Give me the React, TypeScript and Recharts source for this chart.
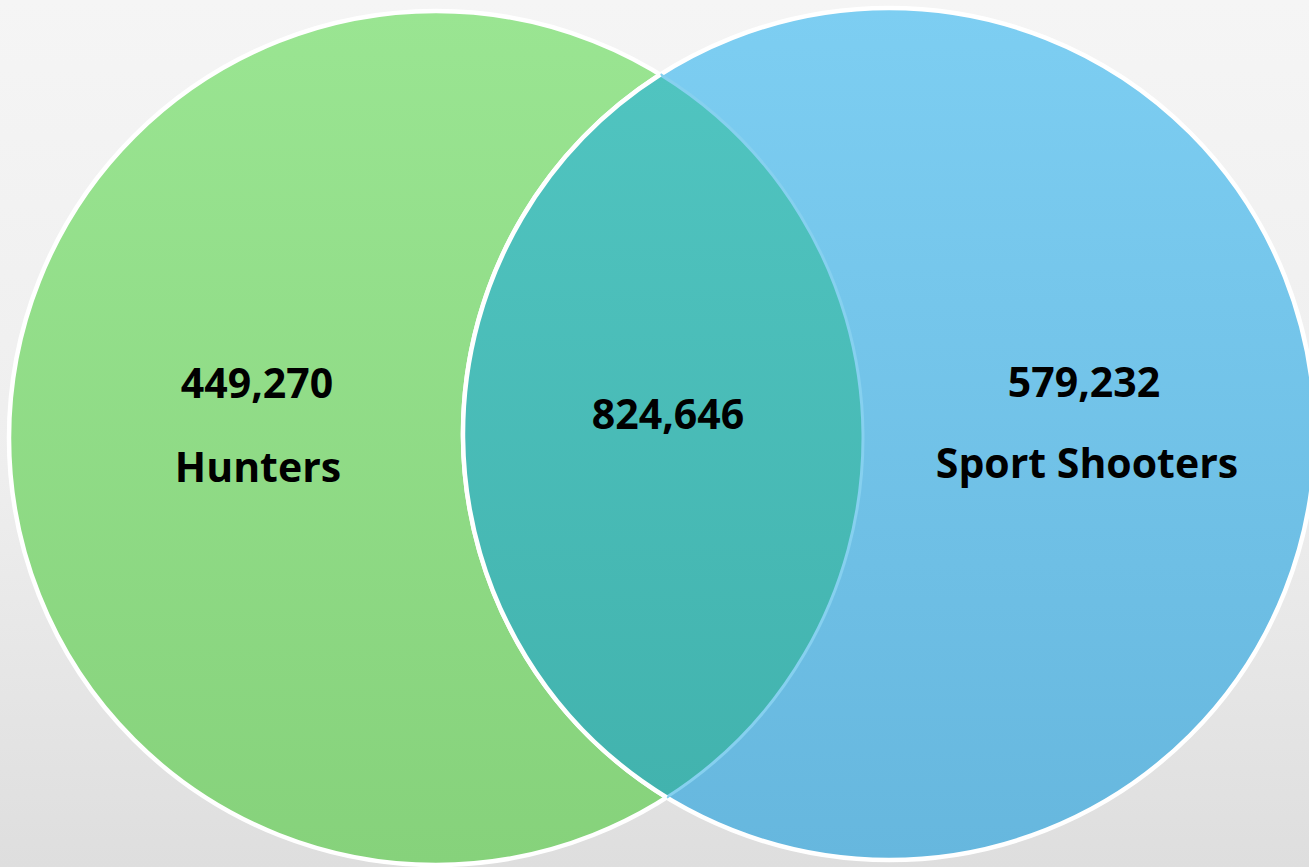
import { ScatterChart, Scatter, XAxis, YAxis } from 'recharts'

const W = 1309
const H = 867

// data
const SET_NAMES = ['Hunters', 'Sport Shooters']
const ONLY_COUNTS = [449270, 579232]
const BOTH_COUNT = 824646

// layout (page pixels, axes are identity)
const CENTER_X = [436, 889]
const CENTER_Y = [438, 434]
const RADIUS = [427, 426]
const VALUE_X = [257, 1084]
const NAME_X = [258, 1087]
const VALUE_Y = [398, 397]
const NAME_Y = [482, 478]
const BOTH_LABEL = { x: 668, y: 429 }

const FILLS = ['url(#gGreen)', 'url(#gBlue)']
const FONT = { fontFamily: 'Open Sans, sans-serif', fontWeight: 700, fontSize: 41, fill: '#000' }

const fmt = (n: number) => n.toLocaleString('en-US')

const setRows = SET_NAMES.map((name, i) => ({ x: CENTER_X[i], y: CENTER_Y[i], idx: i, name, value: ONLY_COUNTS[i] }))

function intersections() {
    const [x1, x2] = CENTER_X
    const [y1, y2] = CENTER_Y
    const [r1, r2] = RADIUS
    const d = Math.hypot(x2 - x1, y2 - y1)
    const a = (r1 * r1 - r2 * r2 + d * d) / (2 * d)
    const h = Math.sqrt(r1 * r1 - a * a)
    const mx = x1 + (a * (x2 - x1)) / d
    const my = y1 + (a * (y2 - y1)) / d
    const p = { x: mx + (h * (y2 - y1)) / d, y: my - (h * (x2 - x1)) / d }
    const q = { x: mx - (h * (y2 - y1)) / d, y: my + (h * (x2 - x1)) / d }
    return p.y < q.y ? [p, q] : [q, p]
}

const [TOP, BOT] = intersections()
const bothRows = [{ x: (TOP.x + BOT.x) / 2, y: (TOP.y + BOT.y) / 2, value: BOTH_COUNT }]

function SetShape(props: any) {
    const p = props.payload ?? props
    const i = p.idx
    return (
        <g>
            {i === 0 && (
                <defs>
                    <linearGradient id="gGreen" x1="0" y1="0" x2="0" y2="1">
                        <stop offset="0%" stopColor="#9ae592" />
                        <stop offset="100%" stopColor="#86d27b" />
                    </linearGradient>
                    <linearGradient id="gBlue" x1="0" y1="0" x2="0" y2="1">
                        <stop offset="0%" stopColor="#7dcef2" />
                        <stop offset="100%" stopColor="#66b7de" />
                    </linearGradient>
                    <linearGradient id="gTeal" x1="0" y1="0" x2="0" y2="1">
                        <stop offset="0%" stopColor="#50c4c0" />
                        <stop offset="100%" stopColor="#42b3ae" />
                    </linearGradient>
                </defs>
            )}
            <circle cx={props.cx} cy={props.cy} r={RADIUS[i]} fill={FILLS[i]} stroke="#ffffff" strokeWidth={4.5} />
            <text x={VALUE_X[i]} y={VALUE_Y[i]} textAnchor="middle" {...FONT}>
                {fmt(p.value)}
            </text>
            <text x={NAME_X[i]} y={NAME_Y[i]} textAnchor="middle" {...FONT}>
                {p.name}
            </text>
        </g>
    )
}

function OverlapShape(props: any) {
    const p = props.payload ?? props
    const [rg, rb] = RADIUS
    const lens = `M${TOP.x},${TOP.y} A${rb},${rb} 0 0 0 ${BOT.x},${BOT.y} A${rg},${rg} 0 0 0 ${TOP.x},${TOP.y} Z`
    return (
        <g>
            <path d={lens} fill="url(#gTeal)" />
            <path d={`M${BOT.x},${BOT.y} A${rg},${rg} 0 0 0 ${TOP.x},${TOP.y}`} fill="none" stroke="#86d0ef" strokeWidth={3} />
            <path d={`M${TOP.x},${TOP.y} A${rb},${rb} 0 0 0 ${BOT.x},${BOT.y}`} fill="none" stroke="#ffffff" strokeWidth={4.5} />
            <text x={BOTH_LABEL.x} y={BOTH_LABEL.y} textAnchor="middle" {...FONT}>
                {fmt(p.value)}
            </text>
        </g>
    )
}

export default function App() {
    return (
        <div
            style={{
                position: 'fixed',
                left: 0,
                top: 0,
                width: W,
                height: H,
                background: 'linear-gradient(180deg, #f5f5f5 0%, #eeeeee 55%, #dedede 100%)',
            }}
        >
            <ScatterChart width={W} height={H} margin={{ top: 0, right: 0, bottom: 0, left: 0 }}>
                <XAxis type="number" dataKey="x" domain={[0, W]} hide allowDataOverflow />
                <YAxis type="number" dataKey="y" domain={[0, H]} reversed hide allowDataOverflow />
                <Scatter data={setRows} shape={SetShape} isAnimationActive={false} />
                <Scatter data={bothRows} shape={OverlapShape} isAnimationActive={false} />
            </ScatterChart>
        </div>
    )
}
